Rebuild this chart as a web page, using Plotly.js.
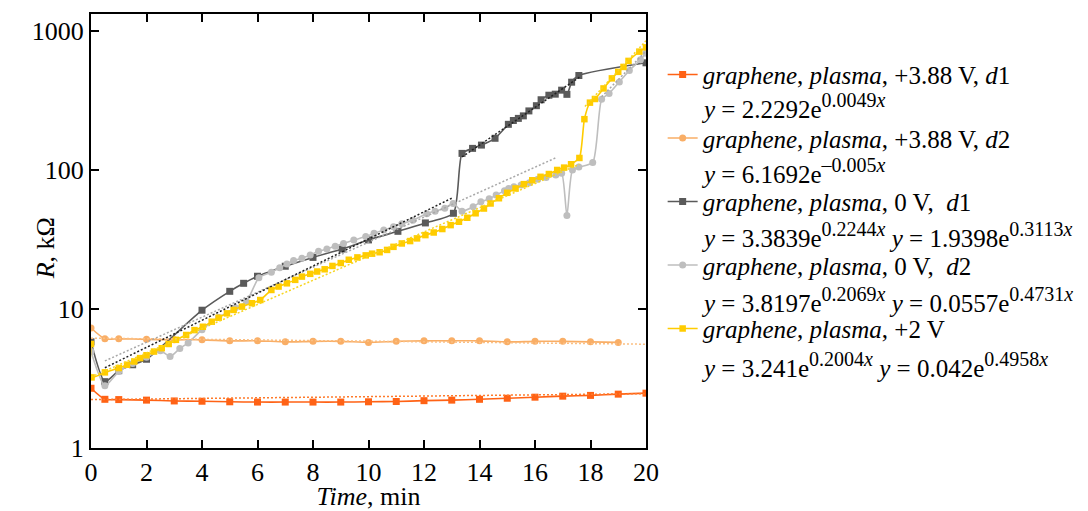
<!DOCTYPE html>
<html>
<head>
<meta charset="utf-8">
<script src="https://cdn.plot.ly/plotly-3.0.1.min.js"></script>
<style>html,body{margin:0;padding:0;background:#fff;}#chart{width:1088px;height:511px;}</style>
</head>
<body>
<div id="chart"></div>
<script>
// ---- data ----
const s1x = [0, 0.5, 1, 2, 3, 4, 5, 6, 7, 8, 9, 10, 11, 12, 13, 14, 15, 16, 17, 18, 19, 20];
const s1y = [2.69, 2.24, 2.23, 2.21, 2.18, 2.17, 2.15, 2.14, 2.14, 2.14, 2.14, 2.15, 2.16, 2.19, 2.21, 2.24, 2.28, 2.32, 2.36, 2.39, 2.44, 2.48];

const s2x = [0, 0.5, 1, 2, 3, 4, 5, 6, 7, 8, 9, 10, 11, 12, 13, 14, 15, 16, 17, 18, 19];
const s2y = [7.3, 6.1, 6.1, 6.05, 6.0, 6.0, 5.9, 5.9, 5.8, 5.85, 5.85, 5.75, 5.85, 5.9, 5.9, 5.9, 5.8, 5.85, 5.85, 5.8, 5.75];

const s3x = [0, 0.5, 1, 1.5, 2, 4, 5, 5.5, 6, 7, 8, 9.05, 10, 11.06, 12.05, 13.06, 13.37, 13.75, 14.07, 14.56, 15.04, 15.22, 15.4, 15.58, 15.78, 16.05, 16.22, 16.5, 16.73, 16.96, 17.15, 17.32, 17.58, 20];
const s3y = [5.8, 3.0, 3.6, 3.97, 4.35, 9.8, 13.4, 15.3, 17.2, 20.3, 23.5, 27.0, 31.4, 36.2, 41.6, 48.8, 131.6, 143, 151, 169, 213, 227, 235, 245, 266, 290, 320, 345, 351, 375, 350, 428, 478, 590];

const s4x = [0, 0.5, 1, 1.5, 2, 2.5, 2.85, 3.2, 3.5, 4, 4.6, 5.2, 5.6, 6.05, 6.5, 6.8, 7.06, 7.3, 7.6, 7.9, 8.2, 8.5, 8.8, 9.1, 9.47, 9.9, 10.2, 10.55, 10.9, 11.2, 11.6, 12.1, 12.4, 12.75, 13.05, 13.37, 13.77, 14.05, 14.35, 14.6, 14.9, 15.05, 15.24, 15.5, 15.8, 16.1, 16.4, 16.75, 16.96, 17.15, 17.35, 17.58, 18.08, 18.4, 18.67, 19.04, 19.4, 19.8, 20];
const s4y = [4.94, 2.8, 3.55, 4.05, 4.5, 5.0, 4.55, 5.2, 5.7, 7.1, 8.7, 10.2, 11.3, 16.8, 18.4, 19.8, 21.1, 22.3, 23.2, 24.5, 26.0, 27.0, 28.3, 29.6, 31.3, 33.2, 35.0, 37.0, 39.0, 41.0, 43.5, 48.5, 50.5, 53, 57.5, 50.5, 54.4, 59, 62, 66, 71, 73.6, 75.6, 78, 81, 85.6, 88.3, 92, 94.7, 47, 100, 105, 113, 322, 355, 430, 520, 620, 690];

const s5x = [0, 0.02, 0.5, 1.0, 1.3, 1.56, 1.77, 2.0, 2.27, 2.55, 2.8, 3.06, 3.43, 3.73, 4.03, 4.35, 4.6, 4.9, 5.14, 5.44, 5.8, 6.1, 6.5, 6.76, 7.06, 7.36, 7.6, 7.9, 8.15, 8.42, 8.7, 9.0, 9.29, 9.6, 9.9, 10.13, 10.4, 10.67, 10.9, 11.2, 11.5, 11.75, 12.05, 12.35, 12.66, 12.96, 13.26, 13.56, 13.86, 14.16, 14.4, 14.7, 15.0, 15.3, 15.6, 15.9, 16.2, 16.5, 16.8, 17.05, 17.3, 17.6, 17.78, 17.98, 18.16, 18.47, 18.77, 19.0, 19.19, 19.37, 19.76, 20];
const s5y = [5.6, 3.22, 3.5, 3.76, 3.97, 4.19, 4.43, 4.65, 4.94, 5.22, 5.6, 6.0, 6.5, 7.05, 7.45, 8.1, 8.65, 9.3, 9.85, 10.4, 11.0, 11.6, 13.7, 14.5, 15.3, 16.2, 17.1, 17.9, 18.6, 19.3, 20.4, 21.4, 22.6, 23.5, 24.3, 25.0, 25.6, 26.6, 28.0, 29.6, 30.8, 32.2, 34.0, 35.5, 37.6, 40.1, 42.4, 45.3, 48.8, 52.8, 57.4, 62.6, 68.5, 73.6, 79.1, 84.3, 89.3, 93.5, 100, 104, 110, 122, 232, 305, 324, 386, 456, 508, 551, 609, 710, 762];

// fitted trend lines (end points; straight on a log axis)
const t1x = [0, 20],       t1y = [2.229, 2.459];
const t2x = [0, 20],       t2y = [6.169, 5.58];
const t3ax = [0.5, 13.0],  t3ay = [3.78, 62.6];
const t3bx = [13.37, 17.6], t3by = [124, 465];
const t4ax = [0.5, 16.75], t4ay = [4.23, 122.3];
const t4bx = [18.4, 20],   t4by = [336, 716];
const t5ax = [0, 17.6],    t5ay = [3.24, 110];
const t5bx = [17.8, 20],   t5by = [286, 851];

const seriesNames = [
  "<i>graphene</i>, <i>plasma</i>, +3.88 V, <i>d</i>1",
  "<i>graphene</i>, <i>plasma</i>, +3.88 V, <i>d</i>2",
  "<i>graphene</i>, <i>plasma</i>, 0 V,  <i>d</i>1",
  "<i>graphene</i>, <i>plasma</i>, 0 V,  <i>d</i>2",
  "<i>graphene</i>, <i>plasma</i>, +2 V"
];
const fitA = [["2.2292"], ["6.1692"], ["3.3839", "1.9398"], ["3.8197", "0.0557"], ["3.241", "0.042"]];
const fitB = [["0.0049"], ["–0.005"], ["0.2244", "0.3113"], ["0.2069", "0.4731"], ["0.2004", "0.4958"]];
const xTickVals = [0, 2, 4, 6, 8, 10, 12, 14, 16, 18, 20];
const yTickVals = [1, 10, 100, 1000];
const yTickText = ["1", "10", "100", "1000"];
const xTitle = "<i>Time</i>, min";
const yTitle = "<i>R</i>, kΩ";

// ---- styling ----
const FONT = "'Liberation Serif', 'Times New Roman', serif";
const cols = ["#FF6215", "#F9AE66", "#5A5A5A", "#BEBEBE", "#FFCC00"];
const trendCols = ["#FF7A2A", "#FBBE80", "#222222", "#A8A8A8", "#F7D520"];

const formulas = fitA.map((a, i) => a.map((v, k) =>
  "<i>y</i> = " + v + "e<sup><span style=\"font-size:20px\">" + fitB[i][k] + "<i>x</i></span></sup>").join(" "));

function dataTrace(x, y, i, sym, size) {
  return {x: x, y: y, type: "scatter", mode: "lines+markers",
    name: seriesNames[i], legendgroup: "g" + i,
    line: {color: cols[i], width: 1.6, shape: "spline", smoothing: 0.6},
    marker: {color: cols[i], symbol: sym, size: size}};
}
function trendTrace(x, y, i) {
  return {x: x, y: y, type: "scatter", mode: "lines", showlegend: false, hoverinfo: "skip",
    line: {color: trendCols[i], width: 1.5, dash: "2px,2px"}};
}

const traces = [
  dataTrace(s1x, s1y, 0, "square", 7),
  dataTrace(s2x, s2y, 1, "circle", 7),
  dataTrace(s3x, s3y, 2, "square", 7),
  dataTrace(s4x, s4y, 3, "circle", 7),
  dataTrace(s5x, s5y, 4, "square", 6.5),
  trendTrace(t1x, t1y, 0),
  trendTrace(t2x, t2y, 1),
  trendTrace(t4ax, t4ay, 3),
  trendTrace(t4bx, t4by, 3),
  trendTrace(t5ax, t5ay, 4),
  trendTrace(t5bx, t5by, 4),
  trendTrace(t3ax, t3ay, 2),
  trendTrace(t3bx, t3by, 2)
];

// formula lines under each legend entry (positions in pixels of the 1088x511 page)
const plotL = 91, plotW = 555, plotB = 448, plotH = 434;
const formulaTop = [87, 152, 216, 281, 346];
const annotations = formulas.map((f, i) => ({
  text: f, xref: "paper", yref: "paper",
  x: (699 - plotL) / plotW, y: (plotB - formulaTop[i]) / plotH,
  xanchor: "left", yanchor: "top", showarrow: false, align: "left",
  font: {family: FONT, size: 25, color: "#000"}
}));
annotations.push({text: yTitle, xref: "paper", yref: "paper", x: -0.083, y: 0.46,
  xanchor: "center", yanchor: "middle", textangle: -90, showarrow: false,
  font: {family: FONT, size: 26, color: "#000"}});

const layout = {
  width: 1088, height: 511,
  margin: {l: 91, r: 442, t: 14, b: 63, pad: 0},
  paper_bgcolor: "#fff", plot_bgcolor: "#fff",
  font: {family: FONT, size: 24, color: "#000"},
  showlegend: true,
  legend: {x: 1.03, xanchor: "left", y: 0.913, yanchor: "top",
    font: {family: FONT, size: 25, color: "#000"}, valign: "middle",
    tracegroupgap: 28, bgcolor: "rgba(0,0,0,0)", traceorder: "grouped"},
  xaxis: {range: [0, 20], tickvals: xTickVals, ticks: "inside", ticklen: 8, tickwidth: 2,
    tickcolor: "#000", showline: true, linewidth: 2, linecolor: "#000", mirror: "ticks",
    showgrid: false, zeroline: false, tickfont: {family: FONT, size: 26},
    title: {text: xTitle, font: {family: FONT, size: 26}, standoff: 0}},
  yaxis: {type: "log", range: [0, 3.122], tickvals: yTickVals, ticktext: yTickText,
    ticks: "inside", ticklen: 8, tickwidth: 2, tickcolor: "#000",
    showline: true, linewidth: 2, linecolor: "#000", mirror: "ticks",
    showgrid: false, zeroline: false, tickfont: {family: FONT, size: 26}},
  annotations: annotations
};

Plotly.newPlot("chart", traces, layout, {displayModeBar: false, staticPlot: true});
</script>
</body>
</html>
